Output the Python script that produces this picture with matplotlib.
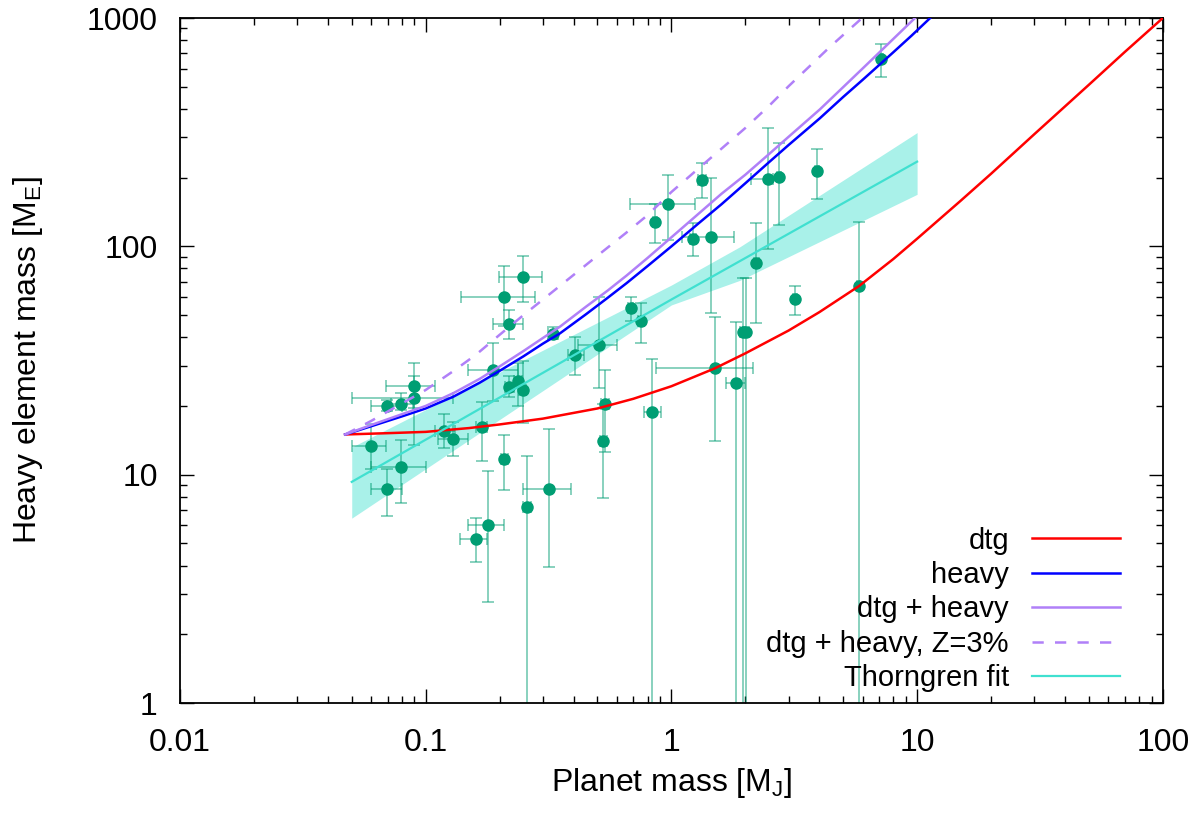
import matplotlib
matplotlib.use("Agg")
import matplotlib.pyplot as plt
from matplotlib.ticker import FixedLocator, LogLocator, NullFormatter, FixedFormatter
import numpy as np

plt.rcParams['font.family'] = ['Liberation Sans', 'DejaVu Sans']
plt.rcParams['mathtext.fontset'] = 'custom'
plt.rcParams['mathtext.rm'] = 'Liberation Sans'
plt.rcParams['mathtext.it'] = 'Liberation Sans:italic'

# model curves
dtg_x = [0.047, 0.07, 0.1, 0.15, 0.2, 0.3, 0.5, 0.7, 1.0, 1.5, 2.0, 3.0, 4.0,
         5.8, 8.0, 10, 15, 20, 30, 50, 70, 100]
dtg_y = [15.0, 15.2, 15.4, 16.0, 16.6, 17.6, 19.5, 21.5, 24.4, 29.2, 34.0, 42.8,
         51.5, 67, 88, 108, 158, 208, 310, 510, 710, 1000]

heavy_x = [0.047, 0.06, 0.08, 0.1, 0.13, 0.166, 0.2, 0.25, 0.3, 0.352, 0.45, 0.55,
           0.657, 0.8, 1.0, 1.3, 1.6, 2.0, 2.5, 3.0, 4.02, 5.0, 6.0, 7.0, 8.0,
           9.5, 11.3]
heavy_y = [15.0, 16.3, 18.0, 19.5, 22.0, 25.3, 28.5, 33.0, 37.5, 41.6, 50.5, 59.5,
           69, 82, 100, 127, 153, 189, 234, 278, 364, 451, 536, 622, 708,
           838, 1000]

both_x = [0.047, 0.06, 0.08, 0.1, 0.13, 0.166, 0.2, 0.25, 0.3, 0.352, 0.45, 0.55,
          0.657, 0.8, 1.083, 1.3, 1.6, 2.0, 2.5, 3.0, 4.02, 5.0, 6.0, 7.0, 8.0, 9.8]
both_y = [15.0, 16.5, 18.4, 20.0, 22.8, 26.3, 29.8, 34.8, 39.7, 44.5, 54.5, 64,
          74.5, 89, 118, 140, 170, 206, 254, 302, 398, 498, 601, 705, 810, 1000]

z3_x = [0.047, 0.06, 0.08, 0.1, 0.13, 0.16, 0.2, 0.25, 0.3, 0.4, 0.5, 0.65, 0.8,
        1.0, 1.3, 1.6, 2.0, 2.5, 3.0, 3.5, 4.42, 5.97]
z3_y = [15.0, 17.2, 20.5, 23.5, 28.5, 33.5, 41, 50, 58.5, 75, 91, 114, 137,
        173, 221, 268, 330, 413, 503, 589, 748, 1000]

fit_x = [0.05, 1.0, 10.0]
fit_y = [9.3, 58.5, 235]
band_x = [0.05, 1.0, 1.9, 10.0]
band_lo = [6.45, 55.4, 71, 169]
band_hi = [13.2, 67.7, 99.6, 315]

# planets: mass, heavy mass, and error bar ends
pm = [0.0597, 0.0699, 0.0699, 0.0793, 0.0793, 0.0896, 0.0896, 0.119, 0.129, 0.160,
      0.169, 0.179, 0.188, 0.209, 0.209, 0.218, 0.219, 0.238, 0.248, 0.248,
      0.259, 0.318, 0.329, 0.406, 0.508, 0.527, 0.535, 0.684, 0.752, 0.835,
      0.859, 0.965, 1.227, 1.33, 1.443, 1.50, 1.83, 1.95, 2.01, 2.22,
      2.48, 2.74, 3.18, 3.92, 5.8, 7.16]
mz = [13.3, 20.0, 8.65, 20.3, 10.8, 24.4, 21.6, 15.6, 14.4, 5.24,
      16.1, 6.04, 28.7, 60.1, 11.7, 45.7, 24.3, 25.6, 23.5, 73.6,
      7.19, 8.65, 41.3, 33.6, 37.0, 14.1, 20.3, 53.5, 47.2, 18.8,
      128, 154, 108, 196, 110, 29.2, 25.1, 42.3, 42.3, 84.4,
      197, 202, 58.6, 214, 67, 661]
pm_lo = [0.050, 0.060, 0.060, 0.072, 0.060, 0.069, 0.050, 0.109, 0.112, 0.138,
         0.160, 0.149, 0.149, 0.139, 0.203, 0.188, 0.211, 0.229, 0.239, 0.199,
         0.250, 0.249, 0.315, 0.380, 0.416, 0.510, 0.515, 0.665, 0.730, 0.770,
         0.845, 0.678, 1.19, 1.28, 1.10, 0.865, 1.67, 1.90, 1.96, 2.17,
         2.10, 2.68, 3.12, 3.85, 5.72, 7.05]
pm_hi = [0.069, 0.080, 0.080, 0.089, 0.100, 0.109, 0.129, 0.131, 0.149, 0.178,
         0.178, 0.209, 0.237, 0.278, 0.216, 0.250, 0.228, 0.247, 0.257, 0.297,
         0.268, 0.391, 0.343, 0.440, 0.600, 0.545, 0.555, 0.700, 0.775, 0.910,
         0.875, 1.25, 1.26, 1.38, 1.79, 2.15, 2.00, 2.00, 2.06, 2.27,
         2.60, 2.80, 3.24, 3.99, 5.88, 7.25]
mz_lo = [10.6, 19.0, 6.6, 19.2, 7.5, 19.5, 13.5, 13.1, 12.1, 4.14,
         11.5, 2.77, 21.1, 45.0, 8.6, 39.4, 22.0, 19.9, 16.8, 57.3,
         0.1, 3.95, 39.4, 27.3, 24.0, 7.9, 12.6, 47.2, 37.9, 0.1,
         103, 107, 91, 163, 51, 14.0, 0.1, 0.1, 0.1, 46.2,
         97, 124, 50, 162, 0.1, 553]
mz_hi = [16.7, 21.2, 10.6, 22.7, 14.2, 30.9, 27.0, 18.4, 17.0, 6.46,
         20.8, 10.4, 37.7, 82.0, 14.9, 52.8, 27.0, 30.8, 31.6, 90.9,
         12.1, 15.8, 44.4, 40.1, 60.0, 20.5, 28.7, 60.2, 56.6, 32.0,
         153, 206, 126.6, 232, 199, 48.9, 46.8, 73, 73, 127,
         330, 284, 67.1, 267, 128, 769]

pm = np.array(pm)
mz = np.array(mz)
xerr = [pm - np.array(pm_lo), np.array(pm_hi) - pm]
yerr = [mz - np.array(mz_lo), np.array(mz_hi) - mz]

fig = plt.figure(figsize=(12, 8.13), dpi=100)
ax = fig.add_axes([0.15, 0.1353, 0.819, 0.8425])

ax.fill_between(band_x, band_lo, band_hi, color="#40e0d0", alpha=0.45, lw=0, zorder=1)

ax.errorbar(pm, mz, xerr=xerr, yerr=yerr, fmt='none', ecolor="#009e73", alpha=0.5,
            elinewidth=1.3, capsize=4.5, capthick=1.3, zorder=2)
ax.plot(pm, mz, 'o', color="#009e73", markersize=8, zorder=3)

ax.plot(dtg_x, dtg_y, color="#ff0000", lw=1.8, label="dtg", zorder=4)
ax.plot(heavy_x, heavy_y, color="#0000ff", lw=1.8, label="heavy", zorder=4)
ax.plot(both_x, both_y, color="#b080f8", lw=1.8, label="dtg + heavy", zorder=4)
ax.plot(z3_x, z3_y, color="#b080f8", lw=1.8, dashes=(4.5, 4.5),
        label="dtg + heavy, Z=3%", zorder=4)
ax.plot(fit_x, fit_y, color="#40e0d0", lw=1.6, label="Thorngren fit", zorder=4)

ax.set_xscale('log')
ax.set_yscale('log')
ax.set_xlim(0.01, 100)
ax.set_ylim(1, 1000)

ax.xaxis.set_major_locator(FixedLocator([0.01, 0.1, 1, 10, 100]))
ax.xaxis.set_major_formatter(FixedFormatter(["0.01", "0.1", "1", "10", "100"]))
ax.yaxis.set_major_locator(FixedLocator([1, 10, 100, 1000]))
ax.yaxis.set_major_formatter(FixedFormatter(["1", "10", "100", "1000"]))
for a in (ax.xaxis, ax.yaxis):
    a.set_minor_locator(LogLocator(base=10, subs=np.arange(2, 10)))
    a.set_minor_formatter(NullFormatter())

ax.tick_params(which='both', direction='in', top=True, right=True, labelsize=23,
               width=1.0, color='black')
ax.tick_params(which='major', length=10)
ax.tick_params(axis='x', which='major', pad=18)
ax.tick_params(axis='y', which='major', pad=16)
ax.tick_params(which='minor', length=5)
for s in ax.spines.values():
    s.set_linewidth(1.3)

ax.set_xlabel("Planet mass [M$_\\mathrm{J}$]", fontsize=23, labelpad=6)
ax.set_ylabel("Heavy element mass [M$_\\mathrm{E}$]", fontsize=23, labelpad=30)

leg = ax.legend(loc='lower right', bbox_to_anchor=(0.977, -0.014), frameon=False,
                fontsize=21, markerfirst=False, handlelength=3.0, labelspacing=0.22,
                handletextpad=0.8, borderaxespad=0.3)
for t in leg.get_texts():
    t.set_ha('right')

fig.savefig("out.png", dpi=100)
